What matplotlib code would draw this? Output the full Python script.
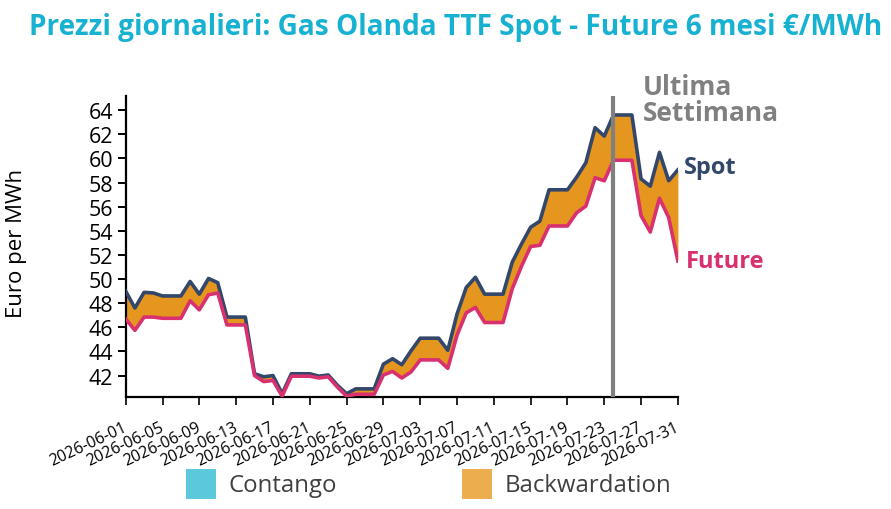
import numpy as np
import pandas as pd
import matplotlib
matplotlib.use("Agg")
import matplotlib.pyplot as plt
import matplotlib.dates as mdates
import matplotlib.transforms as mtransforms
from matplotlib.patches import Rectangle

plt.rcParams["font.family"] = ["Open Sans", "DejaVu Sans"]

# dati giornalieri (venerdi -> domenica valori ripetuti)
date = pd.date_range("2026-06-01", "2026-07-31", freq="D")

spot = [49.0, 47.6, 48.9, 48.85, 48.6, 48.6, 48.6, 49.8, 48.75, 50.05,
        49.7, 46.85, 46.85, 46.85, 42.15, 41.9, 42.0, 40.5, 42.15, 42.15,
        42.15, 41.95, 42.05, 41.2, 40.5, 40.9, 40.9, 40.9, 42.95, 43.4,
        42.9, 44.05, 45.1, 45.1, 45.1, 44.1, 47.1, 49.3, 50.15, 48.75,
        48.75, 48.75, 51.4, 52.9, 54.3, 54.8, 57.4, 57.4, 57.4, 58.45,
        59.65, 62.55, 61.85, 63.6, 63.6, 63.6, 58.3, 57.7, 60.5, 58.15,
        59.05]

future = [46.7, 45.75, 46.85, 46.85, 46.75, 46.75, 46.75, 48.2, 47.45, 48.7,
          48.85, 46.2, 46.2, 46.2, 42.0, 41.5, 41.6, 40.3, 41.95, 41.95,
          41.95, 41.8, 41.9, 41.05, 40.3, 40.45, 40.45, 40.45, 42.05, 42.35,
          41.8, 42.3, 43.3, 43.3, 43.3, 42.6, 45.35, 47.2, 47.65, 46.4,
          46.4, 46.4, 49.2, 51.05, 52.7, 52.8, 54.4, 54.4, 54.4, 55.5,
          56.05, 58.4, 58.15, 59.85, 59.85, 59.85, 55.25, 53.9, 56.7, 55.1,
          51.5]

ultima_settimana = pd.Timestamp("2026-07-24")

spot = np.array(spot)
future = np.array(future)

W, H = 891, 510
fig = plt.figure(figsize=(W / 100, H / 100), dpi=100)
ax = fig.add_axes([125.7 / W, 1 - 397.7 / H, (677.9 - 125.7) / W, (397.7 - 97.3) / H])

def px(x, y):
    return x / W, 1 - y / H

# aree contango / backwardation
ax.fill_between(date, spot, future, where=spot >= future, interpolate=True,
                color="#E5961E", lw=0)
ax.fill_between(date, spot, future, where=spot < future, interpolate=True,
                color="#5BC8DC", lw=0)

ax.plot(date, spot, color="#33476A", lw=2.6, solid_joinstyle="round", zorder=3)
ax.plot(date, future, color="#D9306F", lw=2.6, solid_joinstyle="round", zorder=4)

ax.axvline(ultima_settimana, color="#808080", lw=3, zorder=5)

ax.set_xlim(date[0], date[-1])
ax.set_ylim(40.25, 65.15)
ax.set_yticks(np.arange(42, 65, 2))
ax.set_xticks(date[::4])
ax.xaxis.set_major_formatter(mdates.DateFormatter("%Y-%m-%d"))

for s in ["top", "right"]:
    ax.spines[s].set_visible(False)
for s in ["left", "bottom"]:
    ax.spines[s].set_linewidth(1.6)

ax.tick_params(axis="y", labelsize=15.5, length=6, width=1.4, pad=3)
ax.tick_params(axis="x", labelsize=11.5, length=6, width=1.2, pad=10)
shift = mtransforms.ScaledTranslation(-3 / 100, 0, fig.dpi_scale_trans)
for lab in ax.get_xticklabels():
    lab.set_rotation(25)
    lab.set_ha("right")
    lab.set_rotation_mode("anchor")
    lab.set_transform(lab.get_transform() + shift)

ax.set_ylabel("Euro per MWh", fontsize=16)
ax.yaxis.set_label_coords(-0.179, 0.515)

# etichette serie
ax.annotate("Spot", xy=(date[-1], spot[-1]), xytext=(6, 3), textcoords="offset pixels",
            va="center", ha="left", fontsize=17, fontweight="bold",
            color="#33476A", annotation_clip=False)
ax.annotate("Future", xy=(date[-1], future[-1]), xytext=(8, 0), textcoords="offset pixels",
            va="center", ha="left", fontsize=17, fontweight="bold",
            color="#D9306F", annotation_clip=False)

fig.text(*px(643, 74), "Ultima\nSettimana", va="top", ha="left", fontsize=19,
         fontweight="bold", color="#808080", linespacing=0.95)

fig.text(*px(456, 27), "Prezzi giornalieri: Gas Olanda TTF Spot - Future 6 mesi €/MWh",
         ha="center", va="center", fontsize=20.2, fontweight="bold",
         color="#17B1D1")

# legenda
for x0, col, txt in [(186, "#5BC8DC", "Contango"), (462, "#EBAD4E", "Backwardation")]:
    fig.add_artist(Rectangle(px(x0, 500), 30 / W, 30 / H, transform=fig.transFigure,
                             color=col, lw=0))
    fig.text(*px(x0 + 43, 486), txt, va="center", ha="left", fontsize=17.3,
             color="#404040")

fig.savefig("out.png", dpi=100)
